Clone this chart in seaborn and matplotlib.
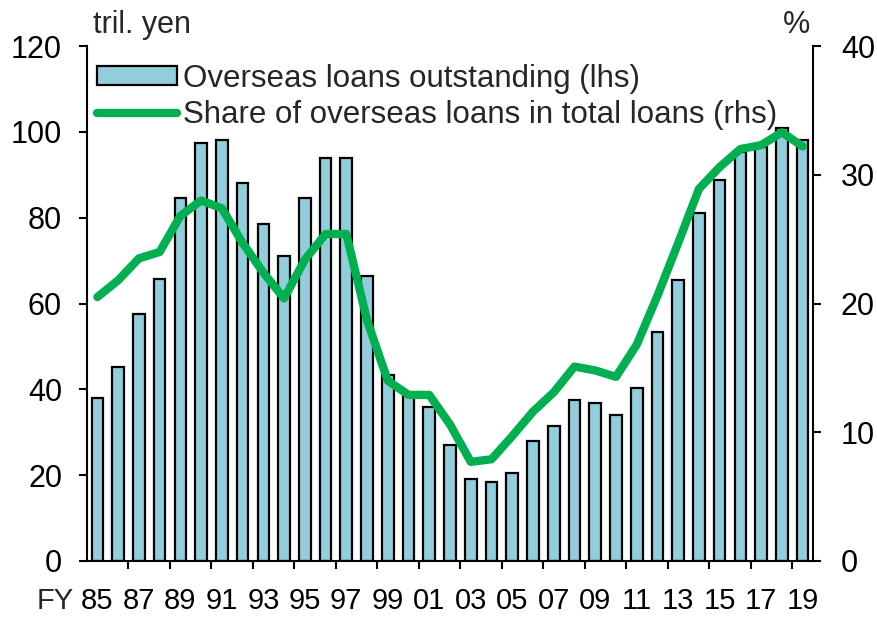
import numpy as np
import matplotlib
matplotlib.use("Agg")
import matplotlib.pyplot as plt
import seaborn as sns

# ---- data ----
years = [str(y) for y in range(1985, 2020)]
loans = [38.0, 45.3, 57.5, 65.6, 84.6, 97.5, 98.1, 88.0, 78.5, 71.1,
         84.6, 94.0, 94.0, 66.3, 43.4, 38.4, 35.9, 27.0, 19.1, 18.5,
         20.5, 28.0, 31.4, 37.5, 36.9, 34.1, 40.3, 53.3, 65.4, 81.1,
         88.7, 95.3, 96.5, 100.8, 98.0]
share = [20.5, 21.8, 23.5, 24.0, 26.8, 28.0, 27.4, 24.7, 22.4, 20.4,
         23.4, 25.4, 25.4, 18.7, 14.0, 12.9, 12.9, 10.6, 7.7, 7.9,
         9.7, 11.6, 13.1, 15.1, 14.8, 14.3, 16.8, 20.6, 24.7, 28.9,
         30.6, 32.0, 32.3, 33.3, 32.2]
tick_labels = ["85", "87", "89", "91", "93", "95", "97", "99", "01",
               "03", "05", "07", "09", "11", "13", "15", "17", "19"]
left_ticks = [0, 20, 40, 60, 80, 100, 120]
right_ticks = [0, 10, 20, 30, 40]
legend_labels = ["Overseas loans outstanding (lhs)",
                 "Share of overseas loans in total loans (rhs)"]

BAR_COLOR = "#92CDDC"
LINE_COLOR = "#00B050"
FS = 22
XFS = 21

sns.set_style("ticks")
plt.rcParams["font.family"] = ["Liberation Sans", "DejaVu Sans"]

fig = plt.figure(figsize=(8.78, 6.17), dpi=100)
ax = fig.add_axes([0.0991, 0.0908, 0.8269, 0.8346])

sns.barplot(x=years, y=loans, ax=ax, color=BAR_COLOR, saturation=1,
            edgecolor="black", linewidth=1.6, width=0.56)

ax2 = ax.twinx()
sns.lineplot(x=np.arange(len(years)), y=share, ax=ax2, color=LINE_COLOR,
             linewidth=6, solid_capstyle="round", solid_joinstyle="round")

n = len(years)
ax.set_xlim(-0.5, n - 0.5)
ax.set_ylim(0, 120)
ax2.set_ylim(0, 40)
ax.set_yticks(left_ticks)
ax2.set_yticks(right_ticks)
ax.set_xticks(np.arange(0, n, 2))
ax.set_xticklabels(tick_labels)
ax.set_xticks(np.arange(1.5, n - 1, 2), minor=True)

for a in (ax, ax2):
    a.set_xlabel("")
    a.set_ylabel("")
    for s in a.spines.values():
        s.set_linewidth(1.5)
        s.set_color("black")

ax.spines["top"].set_visible(False)
ax.spines["right"].set_visible(False)
ax2.spines["top"].set_visible(False)
ax2.spines["left"].set_visible(False)
ax2.spines["bottom"].set_visible(False)

ax.tick_params(axis="y", direction="out", length=6, width=1.5,
               labelsize=FS, pad=12, colors="black")
ax2.tick_params(axis="y", direction="out", length=6, width=1.5,
                labelsize=FS, pad=14, colors="black")
ax.tick_params(axis="x", which="major", length=0, labelsize=XFS, pad=19,
               colors="black")
ax.tick_params(axis="x", which="minor", direction="out", length=6,
               width=1.5, colors="black")

ax.annotate("FY", xy=(0, 0), xycoords=("data", "axes fraction"),
            xytext=(-17, -19), textcoords="offset points",
            ha="right", va="top", fontsize=XFS)

ax.text(0.008, 1.025, "tril. yen", transform=ax.transAxes,
        ha="left", va="baseline", fontsize=FS)
ax.text(0.996, 1.025, "%", transform=ax.transAxes,
        ha="right", va="baseline", fontsize=FS)

leg = ax2.legend([ax.containers[0], ax2.lines[0]], legend_labels,
                 loc="upper left", bbox_to_anchor=(0.0138, 0.966),
                 frameon=False, fontsize=22.5, borderpad=0, borderaxespad=0,
                 handlelength=2.55, handleheight=0.52, handletextpad=0.2,
                 labelspacing=0.2)

fig.savefig("out.png", dpi=100)
